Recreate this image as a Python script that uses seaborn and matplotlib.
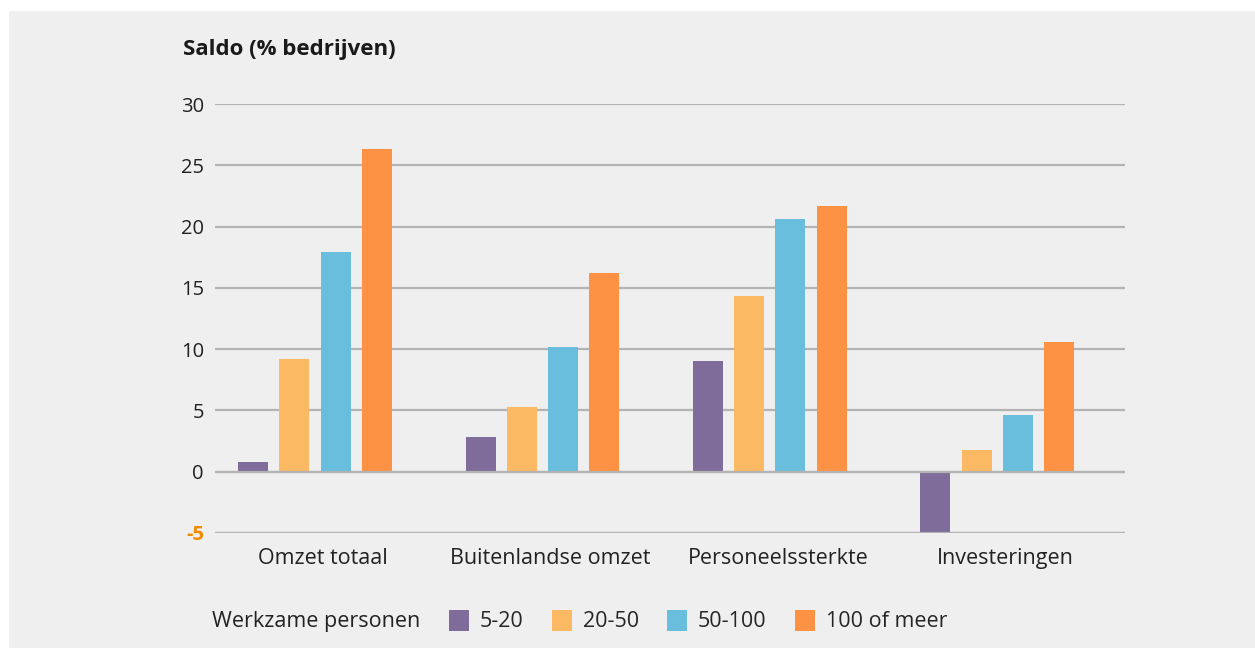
import matplotlib
matplotlib.use("Agg")
import matplotlib.pyplot as plt
from matplotlib.patches import Rectangle
import seaborn as sns
import pandas as pd

# Balance of firms (% reporting increase minus decrease) by firm size
categories = ["Omzet totaal", "Buitenlandse omzet", "Personeelssterkte", "Investeringen"]
size_classes = ["5-20", "20-50", "50-100", "100 of meer"]
vals_5_20 = [0.8, 2.8, 9.0, -5.0]
vals_20_50 = [9.2, 5.3, 14.3, 1.8]
vals_50_100 = [17.9, 10.2, 20.6, 4.6]
vals_100_plus = [26.3, 16.2, 21.7, 10.6]
yticks = [-5, 0, 5, 10, 15, 20, 25, 30]

colors = ["#7f6c9a", "#fcb963", "#6abedd", "#fd9244"]
bg = "#efefef"
txt = "#222222"
grid = "#b3b3b3"

rows = []
for cls, vals in zip(size_classes, [vals_5_20, vals_20_50, vals_50_100, vals_100_plus]):
    for cat, v in zip(categories, vals):
        rows.append({"categorie": cat, "klasse": cls, "saldo": v})
df = pd.DataFrame(rows)

sns.set_theme(style="white")
plt.rcParams["font.family"] = ["Open Sans", "DejaVu Sans"]

W, H = 1255, 648
fig = plt.figure(figsize=(W / 100, H / 100), dpi=100, facecolor="white")
fig.patches.append(Rectangle((9 / W, 0), 1 - 9 / W, (H - 11) / H,
                             transform=fig.transFigure, facecolor=bg,
                             edgecolor="none", zorder=-10))

ax = fig.add_axes([215 / W, (H - 533) / H, (1125 - 215) / W, (533 - 104) / H])
ax.patch.set_alpha(0)

sns.barplot(data=df, x="categorie", y="saldo", hue="klasse", order=categories,
            hue_order=size_classes, palette=colors, width=0.725, gap=0.27,
            saturation=1, linewidth=0, ax=ax, zorder=3)

ax.set_xlim(-0.44, 3.562)
ax.set_ylim(-5, 30)
ax.set_yticks(yticks)
ax.set_yticklabels([str(t) for t in yticks])
ax.set_xticks([i + 0.035 for i in range(len(categories))])
ax.set_xticklabels(categories)
ax.yaxis.grid(True, color=grid, linewidth=1.6, zorder=0)
ax.set_axisbelow(True)
# baseline and lower bound stay visible over the negative bar
for yv in (0, -5):
    ax.axhline(yv, color=grid, linewidth=1.6, zorder=4)
for s in ax.spines.values():
    s.set_visible(False)
ax.set_xlabel("")
ax.set_ylabel("")
ax.tick_params(axis="y", length=0, labelsize=14.5, labelcolor=txt, pad=8)
ax.tick_params(axis="x", length=0, labelsize=15.5, labelcolor=txt, pad=11)
for lbl in ax.get_yticklabels():
    if lbl.get_text() == "-5":
        lbl.set_color("#f08a00")
        lbl.set_fontweight("bold")

fig.text(183 / W, 1 - 50 / H, "Saldo (% bedrijven)", fontsize=16, fontweight="bold",
         color="#1a1a1a", va="center", ha="left")

handles, labels = ax.get_legend_handles_labels()
ax.get_legend().remove()
fig.text(212 / W, 1 - 622 / H, "Werkzame personen", fontsize=15.5, color=txt,
         va="center", ha="left")
fig.legend(handles, labels, loc="center left", bbox_to_anchor=(440 / W, 1 - 621 / H),
           ncol=4, frameon=False, fontsize=15.5, handlelength=0.95, handleheight=1.15,
           handletextpad=0.5, columnspacing=1.3, borderaxespad=0)

fig.savefig("out.png", dpi=100, facecolor="white")
